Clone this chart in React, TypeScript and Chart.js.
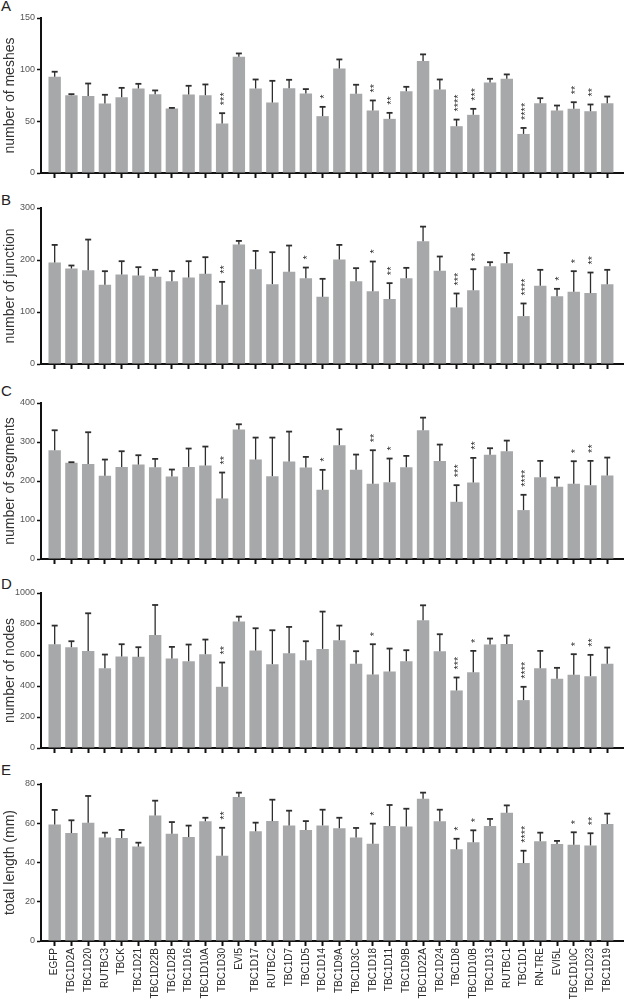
import React, { useEffect, useRef } from "react";
import { Chart, registerables } from "chart.js";
Chart.register(...registerables);

const FONT = "'Liberation Sans', Arial, Helvetica, sans-serif";

const categories = [
  "EGFP", "TBC1D2A", "TBC1D20", "RUTBC3", "TBCK", "TBC1D21", "TBC1D22B", "TBC1D2B",
  "TBC1D16", "TBC1D10A", "TBC1D30", "EVI5", "TBC1D17", "RUTBC2", "TBC1D7", "TBC1D5",
  "TBC1D14", "TBC1D9A", "TBC1D3C", "TBC1D18", "TBC1D11", "TBC1D9B", "TBC1D22A", "TBC1D24",
  "TBC1D8", "TBC1D10B", "TBC1D13", "RUTBC1", "TBC1D1", "RN-TRE", "EVI5L", "TBC1D10C",
  "TBC1D23", "TBC1D19",
];

// A: number of meshes
const meshesMean = [93.1, 75.3, 74.4, 67.2, 73.4, 81.8, 76.3, 62.4, 76.0, 75.3, 47.9, 112.5, 81.8, 68.2, 82.1, 76.9, 55.0, 101.2, 76.6, 60.5, 52.4, 79.2, 108.3, 80.8, 45.3, 56.3, 87.6, 91.2, 37.8, 67.6, 60.5, 62.1, 59.8, 67.6];
const meshesSd = [4.9, 1.0, 12.2, 8.5, 9.0, 4.5, 3.6, 0.6, 8.4, 10.4, 10.0, 3.2, 8.7, 21.0, 8.1, 4.3, 9.0, 8.7, 8.8, 9.7, 5.8, 4.2, 6.5, 9.7, 6.4, 5.8, 3.6, 4.2, 5.8, 4.8, 4.8, 6.4, 6.5, 6.4];
const meshesStars = [0, 0, 0, 0, 0, 0, 0, 0, 0, 0, 3, 0, 0, 0, 0, 0, 1, 0, 0, 2, 2, 0, 0, 0, 4, 3, 0, 0, 4, 0, 0, 2, 2, 0];

// B: number of junction
const junctionMean = [195.1, 183.6, 180.4, 152.3, 172.1, 170.2, 167.6, 159.3, 166.3, 173.4, 113.9, 229.7, 182.3, 153.6, 177.2, 165.1, 129.2, 200.9, 159.3, 140.1, 124.8, 165.1, 236.1, 179.1, 108.8, 142.0, 188.1, 193.9, 92.1, 150.4, 130.5, 138.8, 136.3, 153.6];
const junctionSd = [33.9, 5.8, 58.9, 26.2, 25.6, 16.0, 13.5, 19.2, 31.4, 32.0, 44.1, 7.0, 35.2, 61.4, 50.6, 20.4, 34.6, 28.1, 25.0, 57.0, 30.7, 19.8, 28.1, 27.6, 26.8, 40.3, 7.7, 19.8, 24.3, 30.7, 14.1, 39.7, 39.6, 27.5];
const junctionStars = [0, 0, 0, 0, 0, 0, 0, 0, 0, 0, 2, 0, 0, 0, 0, 1, 0, 0, 0, 1, 2, 0, 0, 0, 3, 2, 0, 0, 4, 0, 1, 1, 2, 0];

// C: number of segments
const segmentsMean = [278.9, 246.5, 243.9, 213.2, 236.2, 242.2, 235.4, 211.5, 236.2, 239.7, 155.2, 331.8, 255.0, 212.4, 249.9, 234.5, 177.4, 291.7, 228.6, 192.8, 197.0, 235.4, 330.1, 251.6, 146.7, 196.2, 267.0, 276.3, 125.4, 209.8, 185.1, 192.8, 189.3, 214.1];
const segmentsSd = [51.2, 1.7, 81.1, 41.8, 40.1, 23.9, 21.3, 17.9, 47.0, 48.6, 66.5, 13.6, 56.3, 98.9, 76.8, 27.3, 51.2, 40.9, 39.2, 86.1, 60.6, 29.0, 32.4, 41.8, 42.6, 63.1, 17.0, 27.3, 39.2, 41.8, 23.9, 57.9, 62.3, 46.0];
const segmentsStars = [0, 0, 0, 0, 0, 0, 0, 0, 0, 0, 2, 0, 0, 0, 0, 0, 1, 0, 0, 2, 1, 0, 0, 0, 3, 2, 0, 0, 4, 0, 0, 1, 2, 0];

// D: number of nodes
const nodesMean = [669.5, 650.2, 626.6, 515.0, 590.1, 588.0, 729.6, 577.3, 560.1, 605.2, 394.8, 815.5, 628.8, 540.8, 611.6, 566.5, 639.5, 695.3, 542.9, 474.2, 493.6, 560.1, 824.0, 624.5, 371.2, 489.3, 667.4, 671.7, 309.0, 515.0, 446.4, 472.1, 463.5, 542.9];
const nodesSd = [120.2, 38.6, 242.5, 88.0, 79.4, 62.2, 193.1, 75.1, 107.3, 94.4, 156.7, 32.1, 143.7, 218.9, 169.5, 122.3, 240.5, 94.4, 81.6, 195.3, 148.0, 70.8, 96.6, 109.4, 83.7, 137.3, 38.6, 53.6, 85.8, 111.6, 70.8, 133.1, 137.4, 105.2];
const nodesStars = [0, 0, 0, 0, 0, 0, 0, 0, 0, 0, 2, 0, 0, 0, 0, 0, 0, 0, 0, 1, 0, 0, 0, 0, 3, 1, 0, 0, 4, 0, 0, 1, 2, 0];

// E: total length (mm)
const lengthMean = [59.4, 55.0, 60.3, 52.8, 52.5, 48.1, 63.9, 54.7, 53.0, 61.0, 43.5, 73.4, 55.9, 61.1, 58.9, 56.6, 58.9, 57.4, 52.7, 49.6, 58.6, 58.4, 72.5, 61.0, 46.7, 50.3, 58.6, 65.4, 39.7, 50.8, 49.4, 49.1, 48.7, 59.6];
const lengthSd = [7.4, 6.5, 13.6, 2.4, 4.1, 2.0, 7.6, 5.9, 5.8, 1.8, 14.2, 2.2, 4.4, 10.9, 7.5, 4.5, 8.0, 5.4, 4.9, 10.2, 10.7, 9.0, 3.1, 5.9, 5.4, 6.1, 3.6, 3.7, 6.3, 4.4, 1.6, 6.3, 6.2, 5.3];
const lengthStars = [0, 0, 0, 0, 0, 0, 0, 0, 0, 0, 2, 0, 0, 0, 0, 0, 0, 0, 0, 1, 0, 0, 0, 0, 1, 1, 0, 0, 4, 0, 0, 1, 2, 0];

type PanelDef = {
  letter: string;
  title: string;
  mean: number[];
  sd: number[];
  stars: number[];
  max: number;
  step: number;
  chartTop: number;
  plotH: number;
  letterTop: number;
  labels: boolean;
};

const PANELS: PanelDef[] = [
  { letter: "A", title: "number of meshes", mean: meshesMean, sd: meshesSd, stars: meshesStars, max: 150, step: 50, chartTop: 18, plotH: 155, letterTop: 0, labels: false },
  { letter: "B", title: "number of junction", mean: junctionMean, sd: junctionSd, stars: junctionStars, max: 300, step: 100, chartTop: 208, plotH: 156, letterTop: 194, labels: false },
  { letter: "C", title: "number of segments", mean: segmentsMean, sd: segmentsSd, stars: segmentsStars, max: 400, step: 100, chartTop: 403, plotH: 156, letterTop: 385, labels: false },
  { letter: "D", title: "number of nodes", mean: nodesMean, sd: nodesSd, stars: nodesStars, max: 1000, step: 200, chartTop: 593, plotH: 155, letterTop: 578, labels: false },
  { letter: "E", title: "total length (mm)", mean: lengthMean, sd: lengthSd, stars: lengthStars, max: 80, step: 20, chartTop: 784, plotH: 157, letterTop: 764, labels: true },
];

const PAD_TOP = 10;
const AXIS_H = 10;
const BOTTOM_AXIS_H = 61;
const Y_AXIS_W = 41;

function makeErrorPlugin(p: PanelDef) {
  return {
    id: "errorBarsStars" + p.letter,
    afterDatasetsDraw(chart: any) {
      const xs = chart.scales.x;
      const ys = chart.scales.y;
      const ctx = chart.ctx as CanvasRenderingContext2D;
      ctx.save();
      ctx.strokeStyle = "#2e2e2e";
      ctx.fillStyle = "#2e2e2e";
      p.mean.forEach((m, i) => {
        const x = xs.getPixelForValue(i);
        const y0 = ys.getPixelForValue(m);
        const y1 = ys.getPixelForValue(m + p.sd[i]);
        ctx.lineWidth = 1.3;
        ctx.beginPath();
        ctx.moveTo(x, y0);
        ctx.lineTo(x, y1);
        ctx.stroke();
        ctx.lineWidth = 1.8;
        ctx.beginPath();
        ctx.moveTo(x - 3, y1);
        ctx.lineTo(x + 3, y1);
        ctx.stroke();
        const n = p.stars[i];
        if (n > 0) {
          const fs = 11;
          ctx.save();
          ctx.font = `${fs}px ${FONT}`;
          ctx.translate(x, y1 - 8);
          ctx.rotate(-Math.PI / 2);
          ctx.textAlign = "left";
          ctx.textBaseline = "middle";
          ctx.fillText("*".repeat(n), 0, fs * 0.23);
          ctx.restore();
        }
      });
      ctx.restore();
    },
  };
}

function canvasHeight(p: PanelDef) {
  return PAD_TOP + p.plotH + (p.labels ? BOTTOM_AXIS_H : AXIS_H);
}

export default function App() {
  const refs = useRef<(HTMLCanvasElement | null)[]>([]);

  useEffect(() => {
    document.body.style.margin = "0";
    document.body.style.overflow = "hidden";
    const charts = PANELS.map((p, k) => {
      const canvas = refs.current[k] as HTMLCanvasElement;
      const axisH = p.labels ? BOTTOM_AXIS_H : AXIS_H;
      return new Chart(canvas, {
        type: "bar",
        data: {
          datasets: [
            {
              data: p.mean.map((v, i) => ({ x: i, y: v })) as any,
              backgroundColor: "#a7a8aa",
              borderWidth: 0,
              barPercentage: 0.74,
              categoryPercentage: 1,
            },
          ],
        },
        options: {
          animation: false,
          responsive: false,
          maintainAspectRatio: false,
          layout: { padding: { top: PAD_TOP, left: 0, right: 0, bottom: 0 } },
          plugins: { legend: { display: false }, tooltip: { enabled: false } },
          scales: {
            x: {
              type: "linear",
              min: -0.817,
              max: 34,
              offset: false,
              grid: {
                offset: false,
                drawOnChartArea: false,
                drawTicks: true,
                tickLength: 5,
                tickWidth: 2,
                tickColor: "#111",
              },
              border: { display: true, width: 2, color: "#111" },
              afterBuildTicks: (s: any) => {
                s.ticks = categories.map((_, i) => ({ value: i }));
              },
              afterFit: (s: any) => {
                s.height = axisH;
                s.paddingLeft = 0;
                s.paddingRight = 0;
              },
              ticks: {
                autoSkip: false,
                maxRotation: 90,
                minRotation: 90,
                padding: 2,
                color: "#2a2a2a",
                font: { family: FONT, size: 10 },
                callback: (v: any) => (p.labels ? categories[Math.round(Number(v))] ?? "" : ""),
              },
            } as any,
            y: {
              min: 0,
              max: p.max,
              ticks: {
                stepSize: p.step,
                padding: 2,
                color: "#555",
                font: { family: FONT, size: 9 },
                callback: (v: any) => String(v),
              },
              grid: {
                drawOnChartArea: false,
                drawTicks: true,
                tickLength: 4,
                tickWidth: 1.5,
                tickColor: "#111",
              },
              border: { display: true, width: 2, color: "#111" },
              title: {
                display: true,
                text: p.title,
                color: "#333",
                font: { family: FONT, size: 14 },
                padding: { top: 2, bottom: 0 },
              },
              afterFit: (s: any) => {
                s.width = Y_AXIS_W;
                s.paddingTop = 0;
                s.paddingBottom = 0;
              },
            } as any,
          },
        },
        plugins: [makeErrorPlugin(p)],
      });
    });
    return () => charts.forEach((c) => c.destroy());
  }, []);

  return (
    <div style={{ position: "absolute", left: 0, top: 0, width: 624, height: 1002, background: "#fff", overflow: "hidden" }}>
      {PANELS.map((p, k) => (
        <React.Fragment key={p.letter}>
          <div
            style={{
              position: "absolute",
              left: 1,
              top: p.letterTop - 2,
              fontFamily: FONT,
              fontSize: 15,
              lineHeight: "15px",
              color: "#222",
            }}
          >
            {p.letter}
          </div>
          <canvas
            ref={(el) => {
              refs.current[k] = el;
            }}
            width={624}
            height={canvasHeight(p)}
            style={{
              position: "absolute",
              left: 0,
              top: p.chartTop - PAD_TOP,
              width: 624,
              height: canvasHeight(p),
              display: "block",
            }}
          />
        </React.Fragment>
      ))}
    </div>
  );
}
